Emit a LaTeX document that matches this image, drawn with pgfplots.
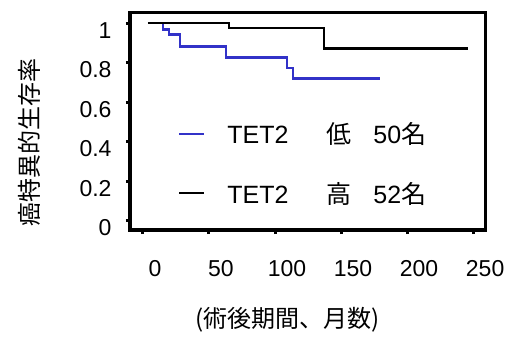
\documentclass[border=0pt]{standalone}
\usepackage{fontspec}
\setmainfont{Liberation Sans}
\newfontfamily\cjk{Noto Sans CJK JP}
\usepackage{pgfplots}
\pgfplotsset{compat=1.18}
\definecolor{kmblue}{RGB}{50,50,200}
\begin{document}
\begin{tikzpicture}
\path[use as bounding box] (0,0) rectangle (510bp,338bp);
\begin{axis}[
  at={(130bp,108bp)}, anchor=south west,
  width=355bp, height=217bp, scale only axis,
  xmin=-9.8, xmax=259, ymin=-0.046, ymax=1.052,
  xtick={0,50,100,150,200,250},
  ytick={0,0.2,0.4,0.6,0.8,1},
  yticklabels={0,0.2,0.4,0.6,0.8,1},
  xtick align=outside, ytick align=outside,
  major tick length=4bp,
  major tick style={draw=black, line width=3bp},
  xtick pos=bottom, ytick pos=left,
  axis line style={draw=black, line width=3bp},
  /pgf/number format/assume math mode=true,
  tick label style={font=\fontsize{23bp}{26bp}\selectfont},
  xticklabel style={yshift=-23bp, xshift=12bp},
  yticklabel style={xshift=-11bp, yshift=-7bp},
  xlabel={\cjk (術後期間、月数)},
  xlabel style={font=\fontsize{24bp}{28bp}\selectfont, at={(axis description cs:0.444,-0.415)}, anchor=center},
  ylabel={\cjk 癌特異的生存率},
  ylabel style={font=\fontsize{24bp}{28bp}\selectfont, at={(axis description cs:-0.284,0.405)}, anchor=center, rotate=0},
  legend style={draw=none, fill=none, at={(axis description cs:0.126,0.515)}, anchor=north west,
    font=\fontsize{25bp}{28bp}\selectfont, row sep=33bp},
  legend cell align=left,
  legend image code/.code={\draw[#1] (0bp,0bp) -- (25bp,0bp);},
]
\addplot[const plot, kmblue, line width=2.4bp] coordinates {
  (3.8,1) (15.2,0.968) (19.7,0.943) (28,0.882) (63,0.826) (109,0.773) (113.6,0.72) (179.5,0.72)
};
\addlegendentry{\hspace{20bp}TET2\hspace{38bp}{\cjk 低}\hspace{22bp}50{\cjk 名}}
\addplot[const plot, black, line width=2.4bp] coordinates {
  (3.8,1) (65,0.976) (137,0.873) (246,0.873)
};
\addlegendentry{\hspace{20bp}TET2\hspace{38bp}{\cjk 高}\hspace{22bp}52{\cjk 名}}
\end{axis}
\end{tikzpicture}
\end{document}
